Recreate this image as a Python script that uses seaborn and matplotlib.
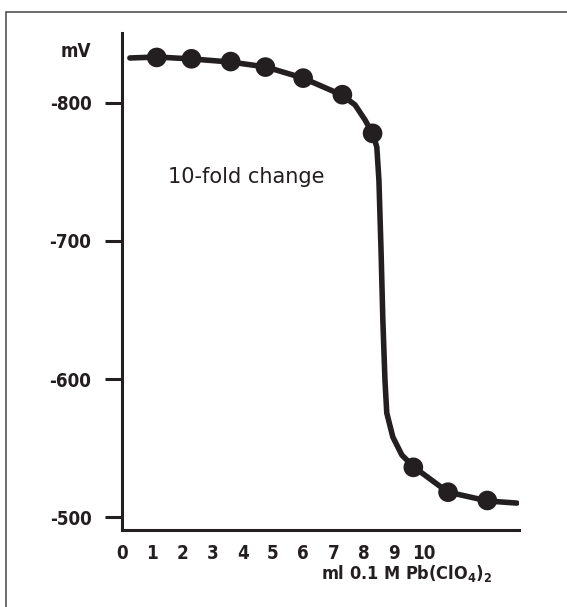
import matplotlib
matplotlib.use("Agg")
import matplotlib.pyplot as plt
import seaborn as sns
import pandas as pd
from matplotlib.patches import Rectangle

# Titration points (ml added, potential in mV)
marker_ml = [1.15, 2.3, 3.6, 4.75, 6.0, 7.3, 8.3, 9.65, 10.8, 12.1]
marker_mv = [-833, -832, -830, -826, -818, -806, -778, -536, -518, -512]

# Hand-drawn titration curve
curve_ml = [0.26, 1.16, 2.32, 3.58, 4.77, 5.99, 7.28, 7.72, 8.05, 8.31, 8.44,
            8.51, 8.58, 8.64, 8.71, 8.77, 8.97, 9.27, 9.67, 10.79, 12.12, 13.08]
curve_mv = [-832.6, -833.3, -831.9, -829.7, -826.1, -818.1, -805.8, -798.6,
            -787.7, -777.5, -768.1, -744.2, -693.5, -642.8, -599.3, -575.4,
            -558.0, -544.9, -536.2, -518.1, -511.6, -510.1]

x_ticks = [0, 1, 2, 3, 4, 5, 6, 7, 8, 9, 10]
y_ticks = [-800, -700, -600, -500]

INK = "#231f20"


def main():
    sns.set_theme(style="white")
    plt.rcParams["font.family"] = ["DejaVu Sans"]
    plt.rcParams["mathtext.default"] = "regular"

    curve = pd.DataFrame({"ml": curve_ml, "mV": curve_mv})
    points = pd.DataFrame({"ml": marker_ml, "mV": marker_mv})

    fig = plt.figure(figsize=(5.67, 6.07), dpi=100)
    ax = fig.add_axes([122 / 567, 77 / 607, 397 / 567, 497 / 607])

    sns.lineplot(data=curve, x="ml", y="mV", sort=False, estimator=None,
                 color=INK, linewidth=4.0, ax=ax)
    sns.scatterplot(data=points, x="ml", y="mV", color=INK, s=200,
                    edgecolor="none", zorder=3, ax=ax)

    ax.set_xlim(0, 13.15)
    ax.set_ylim(-490.6, -850.7)

    bold_narrow = dict(fontweight="bold", fontsize=13.5, fontstretch="condensed")
    ax.set_xticks(x_ticks)
    ax.set_yticks(y_ticks)
    ax.set_xticklabels([str(t) for t in x_ticks], **bold_narrow)
    ax.set_yticklabels([str(t) for t in y_ticks], **bold_narrow)
    ax.tick_params(axis="x", length=0, pad=10, colors=INK)
    ax.tick_params(axis="y", length=12, width=2.2, pad=10, colors=INK,
                   direction="out", left=True)

    ax.set_xlabel("")
    ax.set_ylabel("")
    sns.despine(ax=ax)
    for side in ["left", "bottom"]:
        ax.spines[side].set_linewidth(2.2)
        ax.spines[side].set_color(INK)

    ax.text(-0.078, 0.962, "mV", transform=ax.transAxes, ha="right",
            va="center", color=INK, **bold_narrow)
    ax.text(0.116, 0.698, "10-fold change", transform=ax.transAxes,
            ha="left", va="baseline", fontsize=15, color=INK)
    ax.text(0.932, -0.099, "ml 0.1 M Pb(ClO$_4$)$_2$", transform=ax.transAxes,
            ha="right", va="baseline", color=INK, fontweight="bold",
            fontsize=13, fontstretch="condensed")

    # Frame around the whole figure (cut off at right and bottom)
    fig.patches.append(Rectangle((6 / 567, -0.2), 1.2, 1.2 - 12 / 607,
                                 transform=fig.transFigure, fill=False,
                                 edgecolor="#444444", linewidth=1.1))

    plt.savefig("out.png", dpi=100)


if __name__ == "__main__":
    main()
